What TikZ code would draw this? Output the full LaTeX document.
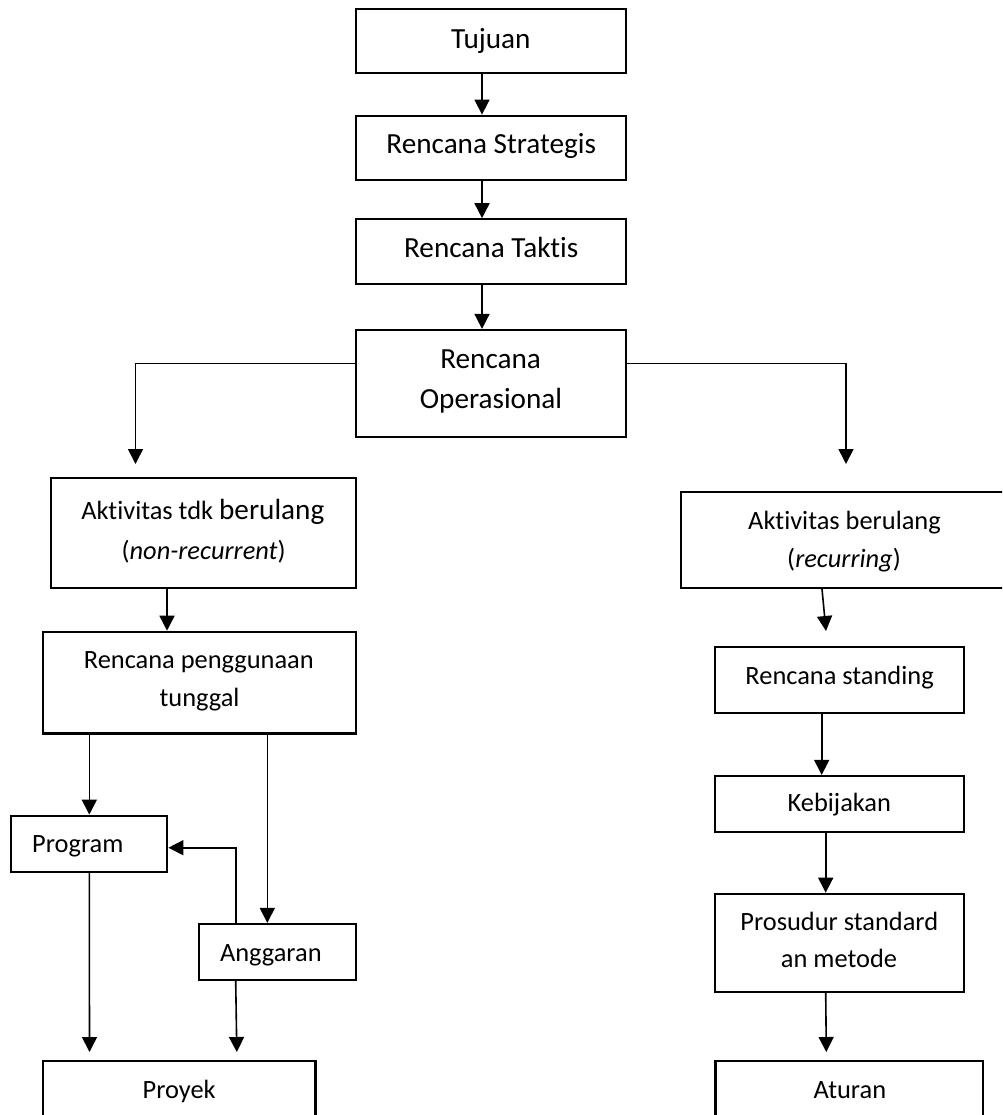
\documentclass[tikz,border=0pt]{standalone}
\usepackage{fontspec}
\setmainfont{Carlito}[Ligatures=NoCommon]
\usetikzlibrary{arrows.meta}
\newcommand\ftop{\fontsize{29.2pt}{35pt}\selectfont}
\newcommand\flow{\fontsize{26.4pt}{32pt}\selectfont}
\tikzset{
  box/.style={draw=black, line width=2.2pt, inner sep=0pt, rectangle},
  txt/.style={inner sep=0pt, anchor=base, font=\flow},
  ttop/.style={inner sep=0pt, anchor=base, font=\ftop},
  arr/.style={draw=black, line width=1.6pt, -{Triangle[length=15pt,width=15pt]}},
}
\begin{document}
\begin{tikzpicture}[x=1pt,y=-1pt]
\useasboundingbox (0,0) rectangle (1002,1115);
\fill[white] (0,0) rectangle (1002,1115);
\clip (0,0) rectangle (1002,1115);

% boxes
\node[box, minimum width=270.1pt, minimum height=64pt]   (tuj)  at (490.85,41.3)  {};
\node[box, minimum width=270.1pt, minimum height=64.3pt] (str)  at (490.85,147.85) {};
\node[box, minimum width=270.1pt, minimum height=64.4pt] (tak)  at (490.85,251.5) {};
\node[box, minimum width=270.1pt, minimum height=106.7pt](ops)  at (490.85,383.35) {};
\node[box, minimum width=305pt,   minimum height=110pt]  (akta) at (203.2,532.7) {};
\node[box, minimum width=313pt,   minimum height=101.7pt](rpt)  at (199.2,682.65) {};
\node[box, minimum width=156.3pt, minimum height=56pt]   (prog) at (89.15,843.7) {};
\node[box, minimum width=156.7pt, minimum height=56pt]   (angg) at (277.35,952) {};
\node[box, minimum width=272.6pt, minimum height=64pt]   (proy) at (179.2,1093) {};
\node[box, minimum width=327pt,   minimum height=96pt]   (aktb) at (844.5,540) {};
\node[box, minimum width=249pt,   minimum height=66pt]   (rst)  at (839.5,680.3) {};
\node[box, minimum width=249pt,   minimum height=55.7pt] (keb)  at (839.5,803.85) {};
\node[box, minimum width=249pt,   minimum height=98.2pt] (pros) at (839.5,942.9) {};
\node[box, minimum width=267.5pt, minimum height=64pt]   (atur) at (849.25,1093) {};

% texts
\node[ttop] (t1)  at (490.8,48.3) {Tujuan};
\node[ttop] (t2)  at (491.2,154) {Rencana Strategis};
\node[ttop] (t3)  at (491.2,257) {Rencana Taktis};
\node[ttop] (t4a) at (490.6,368) {Rencana};
\node[ttop] (t4b) at (491,408) {Operasional};
\node[txt]  (t5a) at (202.8,519) {Aktivitas tdk {\ftop berulang}};
\node[txt]  (t5b) at (203.6,559) {(\textit{non-recurrent})};
\node[txt]  (t6a) at (198.8,668) {Rencana penggunaan};
\node[txt]  (t6b) at (199.5,706) {tunggal};
\node[txt]  (t7)  at (77.8,852.3) {Program};
\node[txt]  (t8)  at (270.8,961) {Anggaran};
\node[txt]  (t9)  at (179.2,1098) {Proyek};
\node[txt]  (t10a) at (844.5,529) {Aktivitas berulang};
\node[txt]  (t10b) at (844,567) {(\textit{recurring})};
\node[txt]  (t11) at (839.6,684) {Rencana standing};
\node[txt]  (t12) at (839.3,811.7) {Kebijakan};
\node[txt]  (t13a) at (839.3,930) {Prosudur standard};
\node[txt]  (t13b) at (839,967) {an metode};
\node[txt]  (t14) at (849.9,1098) {Aturan};

% helper coordinates
\coordinate (xa) at (482,0);
\coordinate (hy) at (0,363.3);
\coordinate (lt) at (135.5,464);
\coordinate (rt) at (846,464);
\coordinate (xb) at (167,0);
\coordinate (xc) at (89.3,0);
\coordinate (xd) at (267.3,0);
\coordinate (xe) at (235.7,0);
\coordinate (hp) at (0,847.7);
\coordinate (pe1) at (89.5,1052);
\coordinate (pe2) at (236.8,1052);
\coordinate (xf) at (822,0);
\coordinate (re1) at (826,631);
\coordinate (xg) at (821.7,0);
\coordinate (xh) at (825.7,0);
\coordinate (re2) at (826.3,1052);

% connectors
\draw[arr] (tuj.south -| xa) -- (str.north -| xa);
\draw[arr] (str.south -| xa) -- (tak.north -| xa);
\draw[arr] (tak.south -| xa) -- (ops.north -| xa);
\draw[arr] (ops.west |- hy) -| (lt);
\draw[arr] (ops.east |- hy) -| (rt);
\draw[arr] (akta.south -| xb) -- (rpt.north -| xb);
\draw[arr] (rpt.south -| xc) -- (prog.north -| xc);
\draw[arr] (rpt.south -| xd) -- (angg.north -| xd);
\draw[arr] (angg.north -| xe) |- (prog.east |- hp);
\draw[arr] (prog.south -| xc) -- (pe1);
\draw[arr] (angg.south -| xe) -- (pe2);
\draw[arr] (aktb.south -| xf) -- (re1);
\draw[arr] (rst.south -| xg) -- (keb.north -| xg);
\draw[arr] (keb.south -| xh) -- (pros.north -| xh);
\draw[arr] (pros.south -| xh) -- (re2);
\end{tikzpicture}
\end{document}
